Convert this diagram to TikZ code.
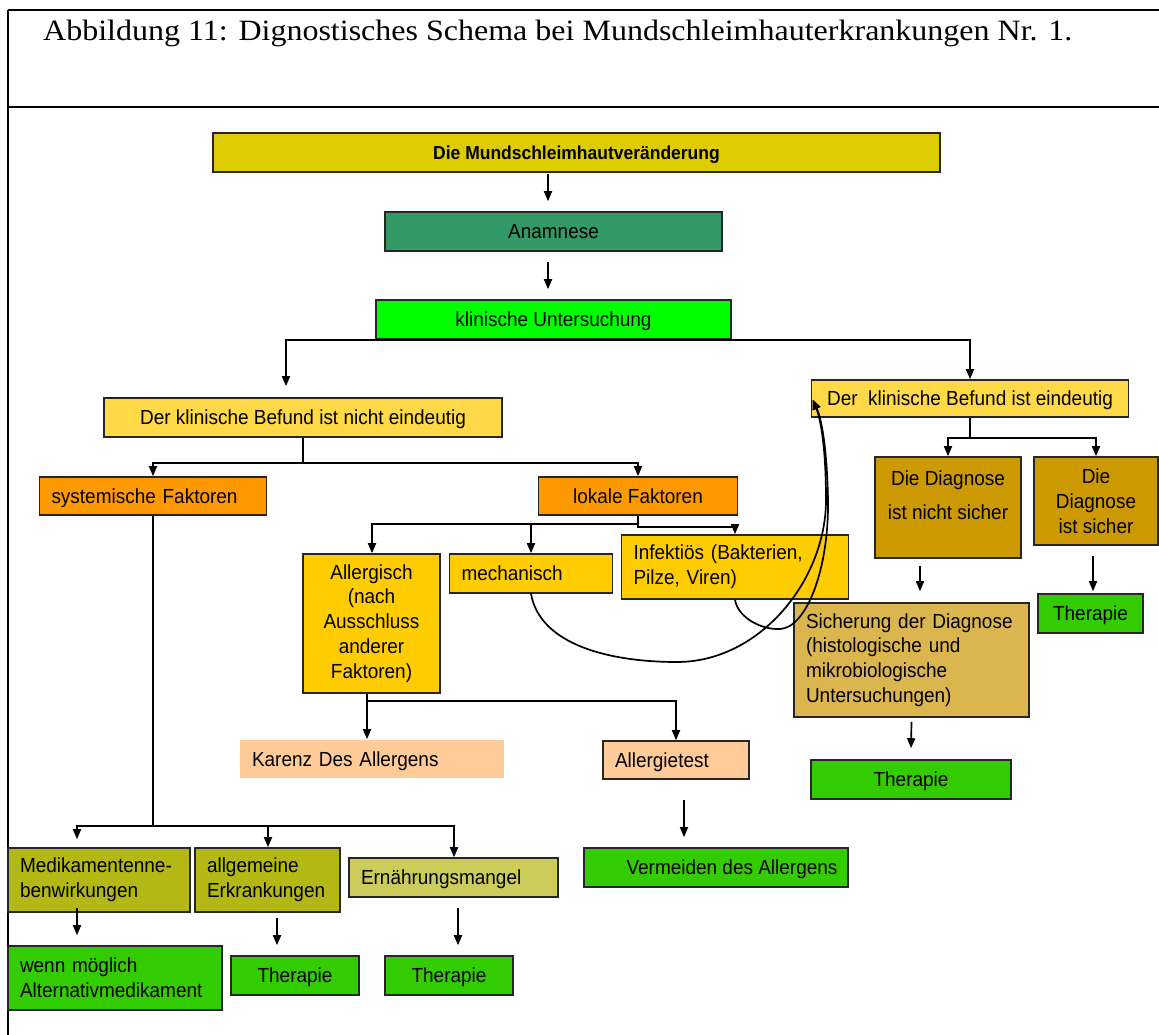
\documentclass[tikz,border=0pt]{standalone}
\usepackage{fontspec}
\setmainfont{Liberation Serif}
\newfontfamily\titlef[FakeStretch=1.085]{Liberation Serif}
\newfontfamily\arialf[FakeStretch=0.93]{Liberation Sans}
\usetikzlibrary{arrows.meta,calc}
\definecolor{cMund}{HTML}{DDCC00}
\definecolor{cAnam}{HTML}{339966}
\definecolor{cKlin}{HTML}{00FF00}
\definecolor{cBef}{HTML}{FFD947}
\definecolor{cFak}{HTML}{FF9900}
\definecolor{cSub}{HTML}{FFCC00}
\definecolor{cDia}{HTML}{CC9900}
\definecolor{cSich}{HTML}{DBB64F}
\definecolor{cGreen}{HTML}{33CC00}
\definecolor{cPeach}{HTML}{FFCC99}
\definecolor{cOlive}{HTML}{B3B814}
\definecolor{cErn}{HTML}{CCCC5A}
\newcommand\nodefont{\arialf\fontsize{20.4}{24.8}\selectfont}
\tikzset{
  box/.style={draw=black!85, line width=1.6pt, inner sep=0pt, font=\nodefont, align=center},
  lbox/.style={box, align=left, inner xsep=12pt},
  sl/.style={text height=14.5pt, text depth=0pt},
  sz/.style 2 args={minimum width=#1pt, minimum height=#2pt},
  arr/.style={-{Triangle[length=10pt,width=8pt]}, line width=1.7pt},
  ln/.style={line width=1.7pt},
}
\begin{document}
\begin{tikzpicture}[x=1pt,y=-1pt]
\useasboundingbox (0,0) rectangle (1159,1035);
% frame
\draw[line width=2.8pt] (8,10) -- (1159,10);
\draw[line width=2.8pt] (8,107) -- (1159,107);
\draw[line width=2pt] (8,10) -- (8,1035);
\node[anchor=base west, inner sep=0pt, font=\titlef\fontsize{29.5}{33}\selectfont] (title) at (43,41)
  {Abbildung 11: Dignostisches Schema bei Mundschleimhauterkrankungen Nr. 1.};

% nodes
\node[box, sl, fill=cMund, sz={727}{39}, font=\arialf\bfseries\fontsize{18.8}{22}\selectfont] (mund) at (576.5,152.5) {Die Mundschleimhautveränderung};
\node[box, sl, fill=cAnam, sz={337}{39}] (anam) at (553.5,231.5) {Anamnese};
\node[box, sl, fill=cKlin, sz={355}{39}] (klin) at (553.5,319.5) {klinische Untersuchung};
\node[box, sl, fill=cBef, sz={398}{39}] (nein) at (303,417.5) {Der klinische Befund ist nicht eindeutig};
\node[box, sl, fill=cBef, sz={317}{37}] (ein) at (970,398.5) {Der\ \ klinische Befund ist eindeutig};
\node[lbox, sl, fill=cFak, sz={227}{38}, text width=203pt] (sys) at (153,496) {systemische Faktoren};
\node[box, sl, fill=cFak, sz={199}{38}] (lok) at (638,496) {lokale Faktoren};
\node[box, fill=cSub, sz={137}{139}] (allerg) at (371.5,623.5) {Allergisch\\(nach\\Ausschluss\\anderer\\Faktoren)};
\node[lbox, sl, fill=cSub, sz={163}{39}, text width=139pt] (mech) at (531,573.5) {mechanisch};
\node[lbox, fill=cSub, sz={227}{64}, text width=203pt] (inf) at (735,567) {Infektiös (Bakterien,\\Pilze, Viren)};
\node[box, fill=cDia, sz={146}{101}] (dns) at (948,507.5) {Die Diagnose\\[10pt]ist nicht sicher\\[0pt]\mbox{}};
\node[box, fill=cDia, sz={124}{88}] (ds) at (1096,501) {Die\\Diagnose\\ist sicher};
\node[lbox, fill=cSich, sz={235}{114}, text width=211pt] (sich) at (911.5,660) {Sicherung der Diagnose\\(histologische und\\mikrobiologische\\Untersuchungen)};
\node[box, sl, fill=cGreen, sz={105}{39}] (th1) at (1090.5,613.5) {Therapie};
\node[box, sl, fill=cGreen, sz={200}{39}] (th2) at (911,779.5) {Therapie};
\node[lbox, sl, draw=none, fill=cPeach, sz={264}{38}, text width=240pt] (karenz) at (372,759) {Karenz Des Allergens};
\node[lbox, sl, fill=cPeach, sz={146}{38}, text width=122pt] (atest) at (676,760) {Allergietest};
\node[box, sl, fill=cGreen, sz={264}{39}] (verm) at (716,867.5) {\hspace*{32pt}Vermeiden des Allergens};
\node[lbox, fill=cOlive, sz={182}{64}, text width=158pt] (med) at (99,880) {Medikamentenne-\\benwirkungen};
\node[lbox, fill=cOlive, sz={145}{64}, text width=121pt] (allg) at (267.5,880) {allgemeine\\Erkrankungen};
\node[lbox, sl, fill=cErn, sz={209}{39}, text width=185pt] (ern) at (453.5,877.5) {Ernährungsmangel};
\node[lbox, fill=cGreen, sz={214}{64}, text width=190pt] (alt) at (115,978) {wenn möglich\\Alternativmedikament};
\node[box, sl, fill=cGreen, sz={128}{39}] (th3) at (295,975.5) {Therapie};
\node[box, sl, fill=cGreen, sz={128}{39}] (th4) at (449,975.5) {Therapie};

% connectors
\draw[arr] (mund.south) ++(-28.5,1) -- ($(anam.north)+(-5.5,-10)$);
\draw[arr] ($(anam.south)+(-5.5,10)$) -- ($(klin.north)+(-5.5,-10)$);
\draw[arr] (klin.south) -| ($(nein.north)+(-17,-11)$);
\draw[arr] (klin.south) -| (ein.north);
\draw[ln] (nein.south) -- ++(0,25) coordinate (n1);
\draw[arr] (n1) -| (sys.north);
\draw[arr] (n1) -| (lok.north);
\draw[ln] (lok.south) -- ++(0,8) coordinate (l1);
\draw[arr] (l1) -| ($(allerg.north)+(0.5,0)$);
\draw[arr] (l1) -| (mech.north);
\draw[arr] (l1) -- ++(0,3) -| (inf.north);
\draw[ln] (ein.south) -- ++(0,20) coordinate (e1);
\draw[arr] (e1) -| (dns.north);
\draw[arr] (e1) -| (ds.north);
\draw[arr] ($(dns.south)+(-28,7)$) -- ($(sich.north)+(8.5,-11)$);
\draw[arr] ($(ds.south)+(-3,10)$) -- ($(th1.north)+(2.5,-2)$);
\draw[arr] ($(sich.south)+(0,4)$) -- ($(th2.north)+(0,-11)$);
\draw[ln] ($(allerg.south)+(-4.5,0)$) -- ++(0,7) coordinate (a1);
\draw[arr] (a1) -| ($(karenz.north)+(-5,0)$);
\draw[arr] (a1) -| (atest.north);
\draw[arr] ($(atest.south)+(8,20)$) -- ($(atest.south |- verm.north)+(8,-10)$);
\draw[ln] (sys.south) -- ++(0,310) coordinate (s1);
\draw[arr] (s1) -| ($(med.north)+(-22,-8)$);
\draw[arr] (s1) -| ($(allg.north)+(0.5,0)$);
\draw[arr] (s1) -| ($(ern.north)+(0.5,0)$);
\draw[arr] ($(med.south)+(-22,-5)$) -- ($(med.south |- alt.north)+(-22,-10)$);
\draw[arr] ($(allg.south)+(9.5,5)$) -- ($(allg.south |- th3.north)+(9.5,-10)$);
\draw[arr] ($(ern.south)+(4.5,10)$) -- ($(ern.south |- th4.north)+(4.5,-10)$);
% curved connectors
\draw[arr] (mech.south) .. controls (540,645) and (610,662) .. (677,662)
  .. controls (760,662) and (826,580) .. (826,500)
  .. controls (826,450) and (821,420) .. ($(ein.west)+(2,1)$);
\draw[arr] (inf.south) .. controls (738,618) and (762,630) .. (780,629)
  .. controls (806,628) and (829,570) .. (828,500)
  .. controls (827,450) and (822,420) .. ($(ein.west)+(2,1)$);
\end{tikzpicture}
\end{document}
